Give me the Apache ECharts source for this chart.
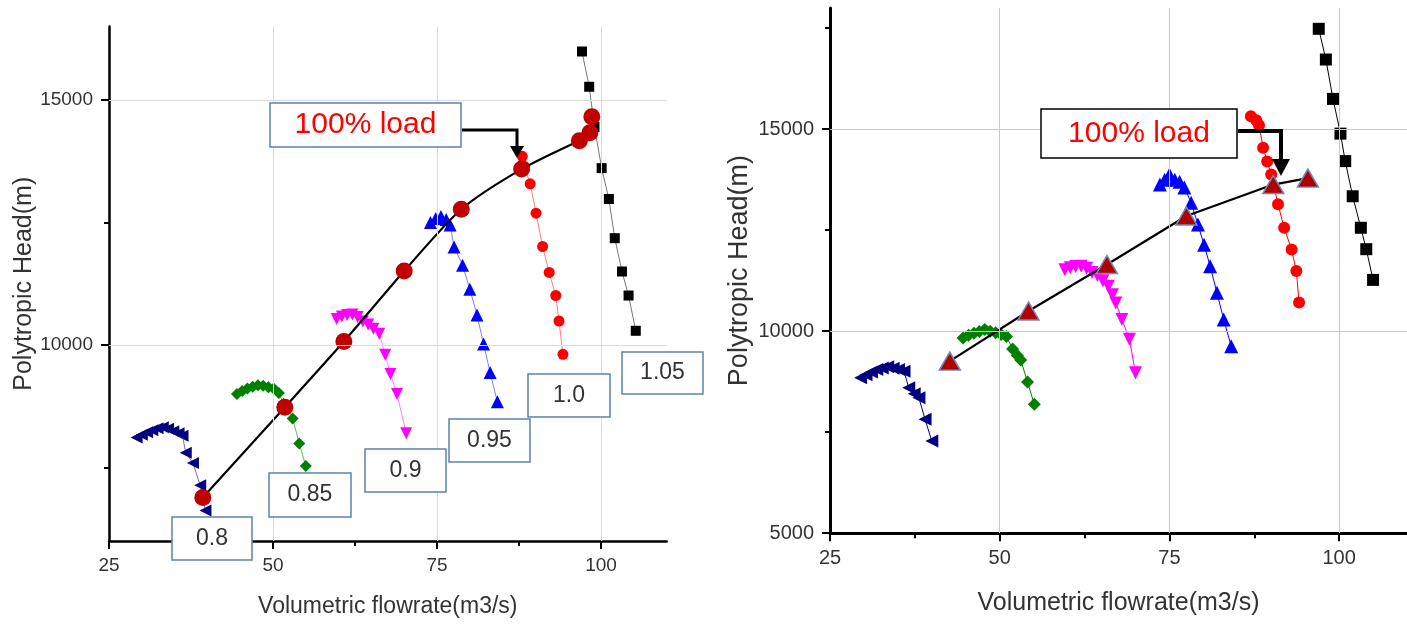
<!DOCTYPE html>
<html>
<head>
<meta charset="utf-8">
<script src="https://cdn.jsdelivr.net/npm/echarts@6/dist/echarts.min.js"></script>
<style>html,body{margin:0;padding:0;background:#fff}#c{width:1407px;height:624px}</style>
</head>
<body>
<div id="c"></div>
<script>
// ---------- LEFT PANEL DATA ----------
const L_s080_x = [29.2,30.0,30.8,31.6,32.4,33.2,34.0,34.8,35.6,36.2,36.7,37.8,38.9,39.7];
const L_s080_y = [8110,8170,8220,8260,8300,8320,8290,8240,8200,8150,7800,7590,7140,6620];
const L_s085_x = [44.5,45.3,46.1,46.9,47.7,48.5,49.3,50.1,50.9,51.6,53.0,54.0,55.0];
const L_s085_y = [9000,9060,9110,9150,9180,9170,9140,9110,9020,8800,8500,7990,7530];
const L_s090_x = [59.7,60.5,61.3,62.1,62.9,63.7,64.5,65.3,66.2,67.1,67.9,68.9,70.3];
const L_s090_y = [10530,10580,10610,10620,10570,10480,10420,10330,10230,9800,9410,9000,8200];
const L_s095_x = [74.0,74.8,75.6,76.4,77.0,77.6,78.9,80.0,81.1,82.1,83.1,84.2];
const L_s095_y = [12500,12580,12620,12560,12450,12000,11630,11140,10610,10020,9440,8840];
const L_s100_x = [88.0,88.3,89.2,90.1,91.1,92.1,93.1,93.6,94.2];
const L_s100_y = [13850,13650,13290,12690,12010,11480,11010,10490,9810];
const L_s105_x = [97.1,98.2,99.0,100.1,101.2,102.1,103.2,104.2,105.3];
const L_s105_y = [15990,15270,14450,13610,12980,12180,11500,11010,10290];
const L_load_x = [39.3,51.8,60.8,70.0,78.7,87.9,96.7];
const L_load_y = [6890,8730,10070,11510,12770,13590,14170];
const L_extra_x = [98.3,98.6];
const L_extra_y = [14330,14660];

// ---------- RIGHT PANEL DATA ----------
const R_s080_x = [29.5,30.3,31.1,31.9,32.7,33.5,34.3,35.1,35.9,36.6,37.4,38.1,39.0,40.0];
const R_s080_y = [8850,8920,8990,9050,9090,9120,9080,9050,9010,8600,8450,8350,7820,7280];
const R_s085_x = [44.6,45.4,46.2,47.0,47.8,48.6,49.4,50.2,51.0,51.9,52.6,53.1,54.1,55.1];
const R_s085_y = [9830,9900,9950,9990,10040,10000,9960,9920,9870,9560,9400,9290,8740,8190];
const R_s090_x = [59.6,60.4,61.2,62.0,62.8,63.6,64.4,65.2,66.0,66.6,67.1,68.0,69.1,70.0];
const R_s090_y = [11520,11570,11600,11610,11560,11450,11380,11250,11110,10900,10700,10290,9800,8970];
const R_s095_x = [73.6,74.3,75.0,75.8,76.5,77.2,78.2,79.2,80.1,81.0,82.0,83.0,84.1];
const R_s095_y = [13630,13750,13880,13750,13700,13560,13180,12640,12140,11610,10950,10290,9630];
const R_s100_x = [87.0,87.8,88.2,88.8,89.4,90.0,91.0,91.9,93.0,93.7,94.1];
const R_s100_y = [15320,15220,15100,14540,14200,13880,13140,12560,12020,11490,10710];
const R_s105_x = [97.0,98.05,99.1,100.2,100.9,102.0,103.2,104.0,105.0];
const R_s105_y = [17485,16725,15750,14890,14210,13340,12560,12030,11270];
const R_load_x = [42.65,54.25,65.8,77.5,90.3,95.4];
const R_load_y = [9260,10500,11650,12850,13630,13790];

// ---------- AXIS TICKS / LABELS ----------
const X_major = [25,50,75,100];
const X_minor = [37.5,62.5,87.5];
const L_Y_major = [10000,15000];
const L_Y_minor = [7500,12500];
const R_Y_major = [5000,10000,15000];
const R_Y_minor = [7500,12500,17500];
const X_grid = [50,75,100];
const Y_grid = [10000,15000];
const speedLabels = ['0.8','0.85','0.9','0.95','1.0','1.05'];
const loadLabel = '100% load';
const xTitle = 'Volumetric flowrate(m3/s)';
const yTitle = 'Polytropic Head(m)';

const FONT = 'Liberation Sans, Arial, sans-serif';
const zip = (xs, ys) => xs.map((x, i) => [x, ys[i]]);
const plain = v => String(v);

function axesFor(g, ymin, ymax, yMaj, yMin, tickFs, xNameFs, yNameFs, xGap, yGap, axW) {
  const xs = [
    { type:'value', gridIndex:g, min:25, max:110, position:'bottom',
      axisLine:{show:true, onZero:false, lineStyle:{color:'#000', width:axW}},
      axisTick:{show:true, customValues:X_major, length:8, lineStyle:{color:'#000', width:2}},
      axisLabel:{customValues:X_major, formatter:plain, fontSize:tickFs, color:'#333', margin:15, fontFamily:FONT},
      splitLine:{show:false},
      name:xTitle, nameLocation:'middle', nameGap:xGap,
      nameTextStyle:{fontSize:xNameFs, color:'#333', fontFamily:FONT} },
    { type:'value', gridIndex:g, min:25, max:110, position:'bottom',
      axisLine:{show:false}, axisLabel:{show:false}, splitLine:{show:false},
      axisTick:{show:true, customValues:X_minor, length:5, lineStyle:{color:'#000', width:2}} }
  ];
  const ys = [
    { type:'value', gridIndex:g, min:ymin, max:ymax, position:'left',
      axisLine:{show:true, onZero:false, lineStyle:{color:'#000', width:axW}},
      axisTick:{show:true, customValues:yMaj, length:8, lineStyle:{color:'#000', width:2}},
      axisLabel:{customValues:yMaj, formatter:plain, fontSize:tickFs, color:'#333', margin:16, fontFamily:FONT},
      splitLine:{show:false},
      name:yTitle, nameLocation:'middle', nameGap:yGap,
      nameTextStyle:{fontSize:yNameFs, color:'#333', fontFamily:FONT} },
    { type:'value', gridIndex:g, min:ymin, max:ymax, position:'left',
      axisLine:{show:false}, axisLabel:{show:false}, splitLine:{show:false},
      axisTick:{show:true, customValues:yMin, length:5, lineStyle:{color:'#000', width:2}} }
  ];
  return {xs, ys};
}

const A = axesFor(0, 6000, 16500, L_Y_major, L_Y_minor, 19, 23, 25, 54, 70, 2.5);
const B = axesFor(1, 5000, 18000, R_Y_major, R_Y_minor, 20, 25, 27, 57, 77, 3);

function curve(xi, yi, xs, ys, color, lineColor, symbol, size, rot) {
  return { type:'line', xAxisIndex:xi, yAxisIndex:yi, data:zip(xs, ys), z:3,
    symbol:symbol, symbolSize:size, symbolRotate:rot, showSymbol:true,
    itemStyle:{color:color, opacity:1}, lineStyle:{color:lineColor, width:1} };
}
function gridSeries(xi, yi, color) {
  return { type:'line', xAxisIndex:xi, yAxisIndex:yi, data:[], z:1,
    markLine:{ silent:true, symbol:['none','none'], label:{show:false},
      lineStyle:{color:color, width:1, type:'solid'},
      data: X_grid.map(v => ({xAxis:v})).concat(Y_grid.map(v => ({yAxis:v}))) } };
}

const series = [
  gridSeries(0, 0, '#dcdcdc'),
  curve(0,0,L_s080_x,L_s080_y,'#000080','#7070b8','triangle',12,90),
  curve(0,0,L_s085_x,L_s085_y,'#008000','#70b070','diamond',12,0),
  curve(0,0,L_s090_x,L_s090_y,'#ff00ff','#ff80ff','triangle',12,180),
  curve(0,0,L_s095_x,L_s095_y,'#0000ff','#8080ff','triangle',13,0),
  curve(0,0,L_s100_x,L_s100_y,'#ff0000','#ff8080','circle',11,0),
  curve(0,0,L_s105_x,L_s105_y,'#000000','#777777','rect',10,0),
  { type:'line', xAxisIndex:0, yAxisIndex:0, data:zip(L_load_x, L_load_y), z:4, smooth:0.25,
    symbol:'circle', symbolSize:17, itemStyle:{color:'#c00000', opacity:1}, lineStyle:{color:'#000', width:2.2} },
  { type:'scatter', xAxisIndex:0, yAxisIndex:0, data:zip(L_extra_x, L_extra_y), z:4,
    symbol:'circle', symbolSize:17, itemStyle:{color:'#c00000', opacity:1} },

  gridSeries(2, 2, '#c8c8c8'),
  curve(2,2,R_s080_x,R_s080_y,'#000080','#000080','triangle',13,90),
  curve(2,2,R_s085_x,R_s085_y,'#008000','#008000','diamond',13,0),
  curve(2,2,R_s090_x,R_s090_y,'#ff00ff','#ff00ff','triangle',13,180),
  curve(2,2,R_s095_x,R_s095_y,'#0000ff','#0000ff','triangle',14,0),
  curve(2,2,R_s100_x,R_s100_y,'#ff0000','#ff0000','circle',12,0),
  curve(2,2,R_s105_x,R_s105_y,'#000000','#000000','rect',12,0),
  { type:'line', xAxisIndex:2, yAxisIndex:2, data:zip(R_load_x, R_load_y), z:4,
    symbol:'triangle', symbolSize:[21,18],
    itemStyle:{color:'#b00000', borderColor:'#6f8db5', borderWidth:1.5, opacity:1},
    lineStyle:{color:'#000', width:2.2} }
];

function box(x, y, w, h, stroke, text, fs, color) {
  return [
    { type:'rect', z:100, shape:{x:x, y:y, width:w, height:h},
      style:{fill:'#fff', stroke:stroke, lineWidth:1.5} },
    { type:'text', z:101, x:x + w/2, y:y + h/2,
      style:{text:text, fill:color, font:fs + 'px ' + FONT, align:'center', verticalAlign:'middle'} }
  ];
}

const blueEdge = '#5a84b0';
let graphics = [];
graphics = graphics
  .concat(box(172,517,80,43,blueEdge,speedLabels[0],23,'#333'))
  .concat(box(269,473,82,44,blueEdge,speedLabels[1],23,'#333'))
  .concat(box(365,449,81,43,blueEdge,speedLabels[2],23,'#333'))
  .concat(box(449,419,81,43,blueEdge,speedLabels[3],23,'#333'))
  .concat(box(528,374,82,43,blueEdge,speedLabels[4],23,'#333'))
  .concat(box(622,352,81,42,blueEdge,speedLabels[5],23,'#333'))
  .concat(box(270,103,191,44,blueEdge,loadLabel,30,'#ff0000'))
  .concat(box(1041,109,196,49,'#000',loadLabel,30,'#ff0000'));
graphics.push(
  { type:'polyline', z:102, shape:{points:[[462,130],[517,130],[517,148]]},
    style:{stroke:'#000', lineWidth:3, fill:null} },
  { type:'polygon', z:102, shape:{points:[[510,146],[524,146],[517,158]]}, style:{fill:'#000'} },
  { type:'polyline', z:102, shape:{points:[[1238,131],[1281,131],[1281,163]]},
    style:{stroke:'#000', lineWidth:4, fill:null} },
  { type:'polygon', z:102, shape:{points:[[1272,159],[1290,159],[1281,176]]}, style:{fill:'#000'} }
);

const chart = echarts.init(document.getElementById('c'), null, {renderer:'canvas'});
chart.setOption({
  animation:false,
  backgroundColor:'#fff',
  textStyle:{fontFamily:FONT},
  grid:[
    {left:109, top:26.5, width:557.6, height:514.5, containLabel:false},
    {left:830, top:8, width:585.9, height:525.2, containLabel:false}
  ],
  xAxis: A.xs.concat(B.xs),
  yAxis: A.ys.concat(B.ys),
  series: series,
  graphic: graphics
});
</script>
</body>
</html>
